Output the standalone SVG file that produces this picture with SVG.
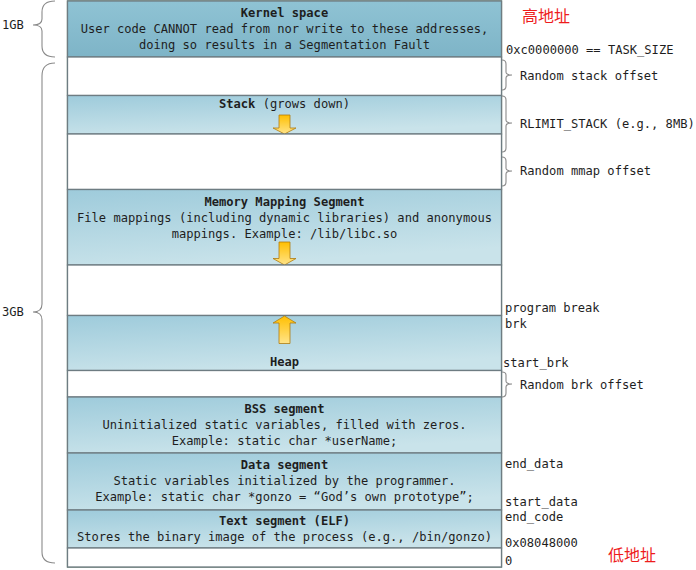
<svg xmlns="http://www.w3.org/2000/svg" width="696" height="570" viewBox="0 0 696 570">
<style>
text{font-family:"DejaVu Sans Mono","Liberation Mono",monospace;font-size:12.1px;fill:#1e1e1e}
.c{text-anchor:middle}
.b{font-weight:bold}
.seg{fill:url(#g);stroke:#6e7c82;stroke-width:1.3}
.ker{fill:url(#gk);stroke:#6e7c82;stroke-width:1.3}
.wh{fill:#fff;stroke:#6e7c82;stroke-width:1.3}
.br{fill:none;stroke:#8a8a8a;stroke-width:1.1}
.arr{fill:url(#ga);stroke:#b07c10;stroke-width:0.8}
.cn{font-family:"Noto Sans CJK SC",sans-serif;font-size:16px;fill:#ee1c1c}
</style>
<defs>
<linearGradient id="g" x1="0" y1="0" x2="0.35" y2="1">
<stop offset="0" stop-color="#9ecbdb"/>
<stop offset="1" stop-color="#c9e3ea"/>
</linearGradient>
<linearGradient id="gk" x1="0" y1="0" x2="0" y2="1">
<stop offset="0" stop-color="#8fc3d4"/>
<stop offset="1" stop-color="#7eb4c7"/>
</linearGradient>
<linearGradient id="ga" x1="0" y1="0" x2="0" y2="1">
<stop offset="0" stop-color="#ffbf00"/>
<stop offset="1" stop-color="#ffe48a"/>
</linearGradient>
</defs>
<rect x="0" y="0" width="696" height="570" fill="#fff"/>

<g id="outer"><rect x="67.5" y="1" width="434" height="566" fill="#fff" stroke="#5c7a66" stroke-width="1.3"/></g>

<g id="kernel">
<rect class="ker" x="67.5" y="1" width="434" height="56"/>
<text class="c b" x="284.5" y="17">Kernel space</text>
<text class="c" x="284.5" y="33">User code CANNOT read from nor write to these addresses,</text>
<text class="c" x="284.5" y="49">doing so results in a Segmentation Fault</text>
</g>
<g id="gap-stack"><rect class="wh" x="67.5" y="57" width="434" height="38.5"/></g>
<g id="stack">
<rect class="seg" x="67.5" y="95.5" width="434" height="38.5"/>
<text class="c" x="284.5" y="108"><tspan class="b">Stack</tspan> (grows down)</text>
<path class="arr" d="M279,115 H290 V128 H296 L284.5,134 L273,128 H279 Z"/>
</g>
<g id="gap-mmap"><rect class="wh" x="67.5" y="134" width="434" height="55.5"/></g>
<g id="mmap">
<rect class="seg" x="67.5" y="189.5" width="434" height="75.5"/>
<text class="c b" x="284.5" y="206">Memory Mapping Segment</text>
<text class="c" x="284.5" y="222">File mappings (including dynamic libraries) and anonymous</text>
<text class="c" x="284.5" y="238">mappings. Example: /lib/libc.so</text>
<path class="arr" d="M279,242 H290 V258.5 H296 L284.5,265 L273,258.5 H279 Z"/>
</g>
<g id="gap-heap"><rect class="wh" x="67.5" y="265" width="434" height="50.5"/></g>
<g id="heap">
<rect class="seg" x="67.5" y="315.5" width="434" height="55"/>
<path class="arr" d="M279,343.5 H290 V323 H296 L284.5,316 L273,323 H279 Z"/>
<text class="c b" x="284.5" y="366">Heap</text>
</g>
<g id="gap-brk"><rect class="wh" x="67.5" y="370.5" width="434" height="26.5"/></g>
<g id="bss">
<rect class="seg" x="67.5" y="397" width="434" height="56"/>
<text class="c b" x="284.5" y="413">BSS segment</text>
<text class="c" x="284.5" y="429">Uninitialized static variables, filled with zeros.</text>
<text class="c" x="284.5" y="445">Example: static char *userName;</text>
</g>
<g id="data">
<rect class="seg" x="67.5" y="453" width="434" height="57"/>
<text class="c b" x="284.5" y="469">Data segment</text>
<text class="c" x="284.5" y="485">Static variables initialized by the programmer.</text>
<text class="c" x="284.5" y="501">Example: static char *gonzo = “God’s own prototype”;</text>
</g>
<g id="text">
<rect class="seg" x="67.5" y="510" width="434" height="38"/>
<text class="c b" x="284.5" y="525">Text segment (ELF)</text>
<text class="c" x="284.5" y="541">Stores the binary image of the process (e.g., /bin/gonzo)</text>
</g>
<g id="bottom"><rect class="wh" x="67.5" y="548" width="434" height="19"/></g>

<g id="connectors">
<path class="br" d="M55,1 Q42,1 42,12 L42,19 Q42,25 33,25 Q42,25 42,31 L42,46 Q42,57 55,57"/>
<path class="br" d="M55,63 Q42,63 42,76 L42,304 Q42,312 33,312 Q42,312 42,320 L42,552 Q42,563 55,563"/>
<path class="br" d="M502,60 Q506,60 506,64 L506,72 Q506,75 512,75 Q506,75 506,78 L506,86 Q506,90 502,90"/>
<path class="br" d="M502,96 Q506,96 506,100 L506,120 Q506,123 512,123 Q506,123 506,126 L506,148 Q506,152 502,152"/>
<path class="br" d="M502,157 Q506,157 506,161 L506,168 Q506,171 512,171 Q506,171 506,174 L506,182 Q506,186 502,186"/>
<path class="br" d="M502,372 Q506,372 506,375 L506,381 Q506,384 512,384 Q506,384 506,387 L506,393 Q506,397 502,397"/>
</g>

<g id="labels">
<text x="2" y="29">1GB</text>
<text x="2" y="316">3GB</text>
<text class="cn" x="522" y="22">高地址</text>
<text x="506" y="54">0xc0000000 == TASK_SIZE</text>
<text x="520" y="80">Random stack offset</text>
<text x="520" y="128">RLIMIT_STACK (e.g., 8MB)</text>
<text x="520" y="175">Random mmap offset</text>
<text x="505" y="312">program break</text>
<text x="505" y="328">brk</text>
<text x="503" y="367">start_brk</text>
<text x="520" y="389">Random brk offset</text>
<text x="505" y="468">end_data</text>
<text x="505" y="506">start_data</text>
<text x="505" y="521">end_code</text>
<text x="505" y="547">0x08048000</text>
<text x="505" y="565">0</text>
<text class="cn" x="608" y="561">低地址</text>
</g>
</svg>
